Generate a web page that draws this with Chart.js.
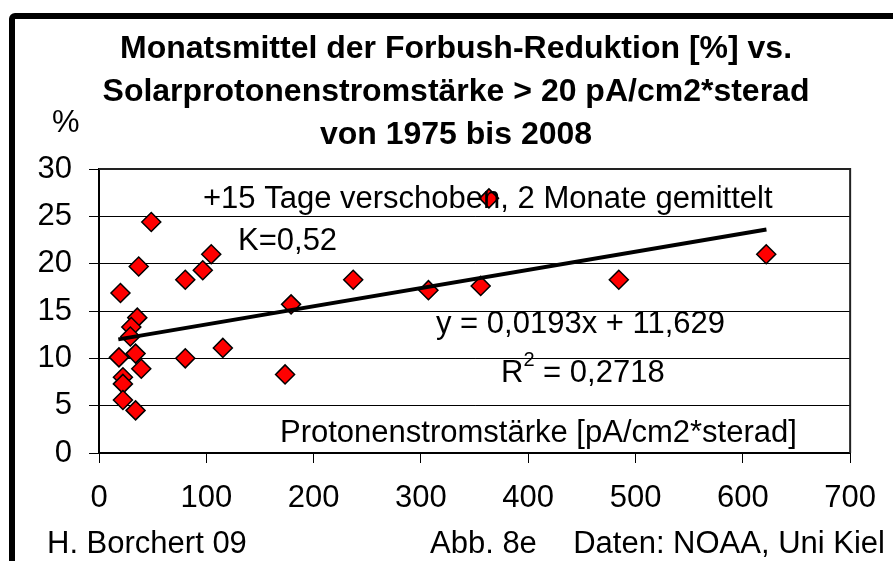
<!DOCTYPE html>
<html lang="de">
<head>
    <meta charset="UTF-8">
    <title>Forbush-Reduktion vs. Solarprotonenstromstärke</title>
    <style>
        html, body {
            margin: 0;
            padding: 0;
            background: #ffffff;
            overflow: hidden;
        }
        .page {
            position: relative;
            width: 893px;
            height: 561px;
            overflow: hidden;
        }
        .frame { /* thick outer border, runs off the right and bottom edge */
            position: absolute;
            left: 9px;
            top: 13px;
            width: 1200px;
            height: 900px;
            border: 6px solid #000;
            border-radius: 6px;
        }
        #chart {
            position: absolute;
            left: 0;
            top: 0;
            z-index: 1;
        }
    </style>
    <script src="https://cdn.jsdelivr.net/npm/chart.js@4/dist/chart.umd.min.js"></script>
</head>
<body>
    <div class="page">
        <div class="frame"></div>
        <canvas id="chart" width="893" height="561"></canvas>
    </div>
    <script>
        // protonenstromstärke [pA/cm2*sterad] and monthly forbush reduction [%]
        const protonFlux = [48.7, 37, 20, 80.4, 96.7, 104.6, 179, 35.7, 30.1, 29.2, 18.6, 34.1, 39.4,
                            80.4, 115.4, 22.3, 22.3, 22.3, 34.1, 173.4, 363.4, 236.9, 307, 355.7, 484.4, 621.8];
        const reduction = [24.4, 19.7, 16.9, 18.3, 19.3, 21.0, 15.7, 14.3, 13.3, 12.3, 10.1, 10.5, 8.9,
                           10.0, 11.1, 8.0, 7.3, 5.6, 4.5, 8.3, 26.9, 18.3, 17.2, 17.65, 18.3, 21.0];

        // linear trend line, end points
        const trendX = [18, 622];
        const trendY = [12.0, 23.6];

        const titleLines = [
            'Monatsmittel der Forbush-Reduktion [%] vs.',
            'Solarprotonenstromstärke > 20 pA/cm2*sterad',
            'von 1975 bis 2008'
        ];

        const FONT = "'Liberation Sans', Arial, sans-serif";

        const points = protonFlux.map((x, i) => ({ x: x, y: reduction[i] }));
        const trend = trendX.map((x, i) => ({ x: x, y: trendY[i] }));

        // all the free text around the plot
        const textPlugin = {
            id: 'texts',
            afterDraw(chart) {
                const ctx = chart.ctx;
                const area = chart.chartArea;
                ctx.save();

                // top and right edge of the plot area
                ctx.strokeStyle = '#222';
                ctx.lineWidth = 2;
                ctx.beginPath();
                ctx.moveTo(area.left, area.top);
                ctx.lineTo(area.right, area.top);
                ctx.lineTo(area.right, area.bottom);
                ctx.stroke();

                ctx.fillStyle = '#000';
                ctx.textBaseline = 'alphabetic';

                // title
                ctx.font = 'bold 32px ' + FONT;
                ctx.textAlign = 'center';
                titleLines.forEach((line, i) => {
                    ctx.fillText(line, 456, 58 + i * 43);
                });

                ctx.font = '31px ' + FONT;
                ctx.textAlign = 'left';
                ctx.fillText('%', 52, 132);

                ctx.fillText('+15 Tage verschoben, 2 Monate gemittelt', 203, 208);
                ctx.fillText('K=0,52', 238, 250);
                ctx.fillText('y = 0,0193x + 11,629', 436, 333);

                // R² with a raised small 2
                ctx.fillText('R', 501, 382);
                const rW = ctx.measureText('R').width;
                ctx.font = '20px ' + FONT;
                ctx.fillText('2', 501 + rW, 366);
                const twoW = ctx.measureText('2').width;
                ctx.font = '31px ' + FONT;
                ctx.fillText(' = 0,2718', 501 + rW + twoW, 382);

                ctx.fillText('Protonenstromstärke [pA/cm2*sterad]', 280, 442);

                // footer
                ctx.fillText('H. Borchert 09', 47, 553);
                ctx.fillText('Abb. 8e', 430, 553);
                ctx.textAlign = 'right';
                ctx.fillText('Daten: NOAA, Uni Kiel', 885, 553);

                ctx.restore();
            }
        };

        new Chart(document.getElementById('chart'), {
            type: 'scatter',
            data: {
                datasets: [{
                    type: 'line',
                    label: 'Trend',
                    data: trend,
                    borderColor: '#000',
                    borderWidth: 4,
                    pointRadius: 0,
                    fill: false,
                    order: 0
                }, {
                    label: 'Forbush-Reduktion',
                    data: points,
                    pointStyle: 'rectRot',
                    pointRadius: 9.5,
                    pointBackgroundColor: '#ff0000',
                    pointBorderColor: '#000',
                    pointBorderWidth: 1.5,
                    order: 1
                }]
            },
            options: {
                responsive: false,
                animation: false,
                layout: { padding: { top: 169, right: 41, left: 0, bottom: 0 } },
                plugins: {
                    legend: { display: false },
                    tooltip: { enabled: false },
                    title: { display: false }
                },
                scales: {
                    x: {
                        type: 'linear',
                        min: 0,
                        max: 700,
                        afterFit: (scale) => { scale.height = 108; },
                        ticks: { stepSize: 100, color: '#000', padding: 17, font: { size: 31, family: FONT } },
                        grid: { drawOnChartArea: false, drawTicks: true, tickLength: 10, color: '#000', lineWidth: 1 },
                        border: { display: true, color: '#000', width: 2 }
                    },
                    y: {
                        min: 0,
                        max: 30,
                        afterFit: (scale) => { scale.width = 99; },
                        ticks: { stepSize: 5, color: '#000', padding: 17, font: { size: 31, family: FONT } },
                        grid: { color: '#000', lineWidth: 1, tickLength: 10 },
                        border: { display: true, color: '#000', width: 2 }
                    }
                }
            },
            plugins: [textPlugin]
        });
    </script>
</body>
</html>
